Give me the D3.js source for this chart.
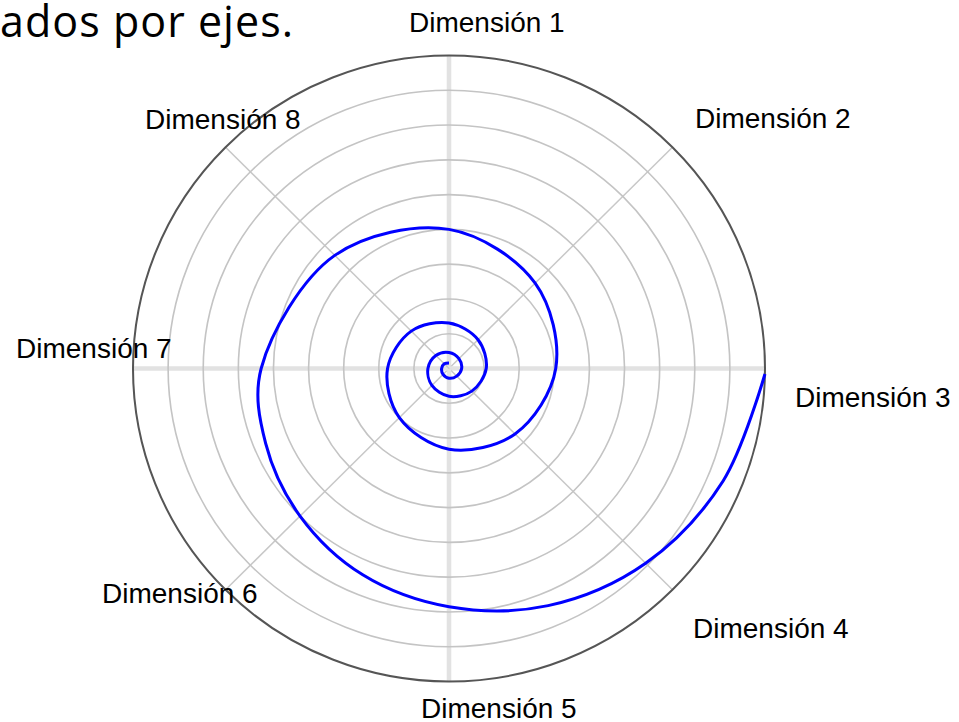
<!DOCTYPE html>
<html>
<head>
<meta charset="utf-8">
<script src="https://cdn.jsdelivr.net/npm/d3@7"></script>
<style>
  html, body { margin: 0; padding: 0; background: #ffffff; }
  svg { display: block; }
</style>
</head>
<body>
<svg id="chart" width="959" height="722"></svg>
<script>
// ---------------- DATA ----------------
const titleText = "ados por ejes.";
const categories = ["Dimensión 1", "Dimensión 2", "Dimensión 3", "Dimensión 4",
                    "Dimensión 5", "Dimensión 6", "Dimensión 7", "Dimensión 8"];
const gridLevels = [1, 2, 3, 4, 5, 6, 7, 8];
const maxLevel = 9;
// spiral: angle in degrees (clockwise from Dimensión 1) and radius in grid units
const spiralAngles = [91, 112.5, 135, 157.5, 180, 202.5, 225, 247.5, 270, 315, 360, 405, 450, 495,
                      540, 585, 630, 675, 720, 765, 810, 855, 900, 945, 990, 1035, 1080,
                      1125, 1170, 1215, 1260, 1305, 1350, 1395, 1440];
const spiralRadii  = [9.0, 8.45, 7.92, 7.38, 6.85, 6.42, 6.0, 5.65, 5.35, 4.6, 4.0, 3.47, 3.04, 2.66,
                      2.32, 2.0, 1.75, 1.52, 1.31, 1.17, 1.06, 0.92, 0.80, 0.69, 0.60, 0.53, 0.46,
                      0.40, 0.36, 0.31, 0.28, 0.24, 0.21, 0.19, 0.16];

// ---------------- LAYOUT ----------------
const cx = 449, cy = 368.5, R = 313, xStretch = 316 / 313;
// label left/baseline offsets from center
const labelOffsets = [[-40, -336.5], [246, -240.5], [346, 38.5], [244, 269.5],
                      [-28, 349.5], [-347, 234.5], [-433, -10.5], [-304, -239.5]];

const svg = d3.select("#chart");
svg.append("rect").attr("width", 959).attr("height", 722).attr("fill", "#fff");

// title
svg.append("text")
  .attr("x", 0).attr("y", 37)
  .attr("font-family", "'Open Sans', 'Noto Sans', sans-serif")
  .attr("font-size", 43)
  .attr("textLength", 293)
  .attr("lengthAdjust", "spacing")
  .attr("fill", "#000")
  .text(titleText);

const rScale = d3.scaleLinear().domain([0, maxLevel]).range([0, R]);
const angleScale = d3.scaleBand().domain(categories).range([0, 2 * Math.PI]).align(0).paddingInner(0);
const angleOf = c => angleScale(c); // 0 at top, clockwise

const g = svg.append("g").attr("transform", `translate(${cx},${cy}) scale(${xStretch},1)`);

// spokes
categories.forEach((c, i) => {
  const a = angleOf(c);
  const main = i % 2 === 0;
  g.append("line")
    .attr("x1", 0).attr("y1", 0)
    .attr("x2", rScale(maxLevel) * Math.sin(a))
    .attr("y2", -rScale(maxLevel) * Math.cos(a))
    .attr("stroke", main ? "#e2e2e2" : "#c8c8c8")
    .attr("stroke-width", main ? 4.5 : 1.5);
});

// grid circles
g.selectAll("circle.grid").data(gridLevels).enter().append("circle")
  .attr("class", "grid")
  .attr("r", d => rScale(d))
  .attr("fill", "none")
  .attr("stroke", "#c4c4c4")
  .attr("stroke-width", 1.6);

// outer circle
g.append("circle")
  .attr("r", rScale(maxLevel))
  .attr("fill", "none")
  .attr("stroke", "#555")
  .attr("stroke-width", 2);

// spiral
const spiral = spiralAngles.map((a, i) => ({ a: a * Math.PI / 180, r: spiralRadii[i] }));
const radial = d3.lineRadial()
  .angle(d => d.a)
  .radius(d => rScale(d.r))
  .curve(d3.curveCatmullRom.alpha(0.5));
g.append("path")
  .attr("d", radial(spiral))
  .attr("fill", "none")
  .attr("stroke", "#0000ff")
  .attr("stroke-width", 3);

// labels
svg.selectAll("text.lab").data(categories).enter().append("text")
  .attr("class", "lab")
  .attr("x", (d, i) => cx + labelOffsets[i][0])
  .attr("y", (d, i) => cy + labelOffsets[i][1])
  .attr("font-family", "'Liberation Sans', Arial, sans-serif")
  .attr("font-size", 28)
  .attr("fill", "#000")
  .text(d => d);
</script>
</body>
</html>
